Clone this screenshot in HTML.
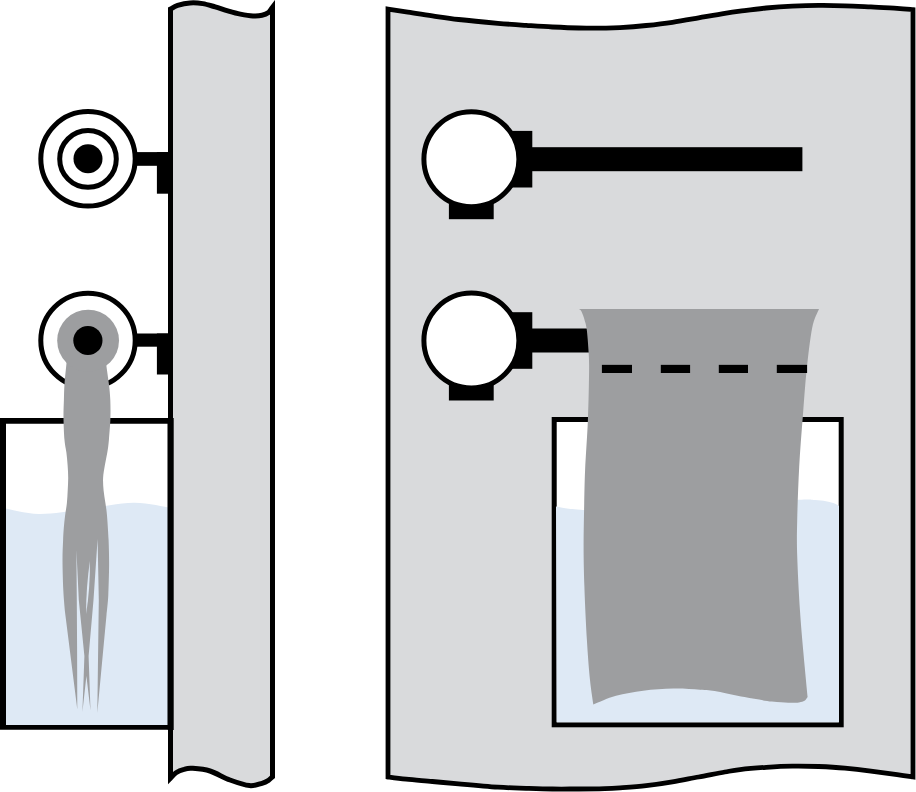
<!DOCTYPE html>
<html><head><meta charset="utf-8"><title>Diagram</title>
<style>html,body{margin:0;padding:0;background:#fff;overflow:hidden;font-family:"Liberation Sans",sans-serif}svg{display:block}</style>
</head><body>
<svg width="916" height="792" viewBox="0 0 916 792">
<path d="M3.0 508.0 C9.0 509.0 25.3 513.8 39.0 514.0 C52.7 514.2 69.2 510.9 85.0 509.0 C100.8 507.1 119.3 503.0 133.6 502.8 C147.9 502.6 164.8 507.1 171.0 508.0 L171 727 L0 727 Z" fill="#dee9f5"/>
<path d="M0 417.9 H173.7 V729.8 H0 Z M6 423.7 V724.9 H167.7 V423.7 Z" fill="#000" fill-rule="evenodd"/>
<path d="M170.5 9.0 C171.7 8.4 174.3 6.4 177.6 5.4 C180.8 4.4 185.8 3.2 190.0 2.9 C194.2 2.6 198.5 2.9 202.7 3.6 C206.9 4.3 211.0 5.7 215.2 6.9 C219.4 8.1 223.6 9.7 227.8 10.9 C232.0 12.1 236.1 13.3 240.3 14.1 C244.5 14.9 249.3 15.7 252.9 15.9 C256.5 16.1 259.4 15.9 262.0 15.3 C264.6 14.8 266.8 13.9 268.5 12.6 C270.2 11.2 271.8 8.1 272.5 7.2 L272.5 776.8 C271.8 777.4 270.2 779.2 268.5 780.3 C266.8 781.4 265.2 782.4 262.0 783.3 C258.8 784.2 254.8 786.1 249.5 785.6 C244.2 785.1 236.6 782.4 230.0 780.0 C223.4 777.6 216.3 773.0 210.0 771.0 C203.7 769.0 196.3 768.6 192.0 768.3 C187.7 768.0 186.7 768.5 184.0 769.3 C181.3 770.0 178.2 771.3 176.0 772.8 C173.8 774.3 171.4 777.4 170.5 778.3 Z" fill="#d9dadc" stroke="#000" stroke-width="5" stroke-miterlimit="10"/>
<rect x="120" y="152.1" width="48.4" height="13.7" fill="#000"/>
<rect x="156.9" y="152.1" width="11.5" height="41.6" fill="#000"/>
<rect x="120" y="333.5" width="48.4" height="13.2" fill="#000"/>
<rect x="156.9" y="333.5" width="11.5" height="41" fill="#000"/>
<rect x="167.7" y="418" width="6" height="312" fill="#000"/>
<circle cx="88" cy="158.8" r="47.2" fill="#fff" stroke="#000" stroke-width="5"/>
<circle cx="88" cy="158.9" r="28.3" fill="none" stroke="#000" stroke-width="5"/>
<circle cx="88" cy="158.8" r="14.5" fill="#000"/>
<circle cx="88" cy="340.4" r="47.2" fill="#fff" stroke="#000" stroke-width="5"/>
<path d="M67.5 346.0 C67.4 347.7 67.1 353.0 66.9 356.0 C66.7 359.0 66.8 359.3 66.4 364.0 C66.0 368.7 64.9 378.0 64.5 384.0 C64.1 390.0 64.1 394.3 63.9 400.0 C63.7 405.7 63.4 411.3 63.5 418.0 C63.6 424.7 64.0 434.2 64.5 440.0 C65.0 445.8 65.9 448.4 66.4 452.6 C66.9 456.8 67.3 460.8 67.6 465.0 C67.9 469.2 68.2 473.8 68.2 478.0 C68.2 482.2 67.9 486.3 67.7 490.5 C67.5 494.7 67.3 498.8 66.9 503.0 C66.5 507.2 65.6 511.3 65.1 515.5 C64.6 519.7 64.1 523.9 63.8 528.0 C63.5 532.1 63.3 534.7 63.1 540.0 C62.9 545.3 62.5 551.7 62.5 560.0 C62.5 568.3 62.9 581.3 63.3 590.0 C63.7 598.7 64.7 608.3 65.0 612.0 L77.3 709.5 L77.1 650 L76.8 600 L76.4 550 L78.8 600 L84.4 656 L82.4 712 L86.4 676 L90.5 710.6 L88.6 656 L93.5 600 L97.6 539 L98.8 600 L97.3 712.9 L106.5 615 C106.8 611.7 107.9 603.3 108.3 595.0 C108.7 586.7 109.0 574.2 109.1 565.0 C109.1 555.8 108.9 548.2 108.6 540.0 C108.2 531.8 107.5 521.7 107.0 515.5 C106.5 509.3 106.0 507.2 105.4 503.0 C104.8 498.8 104.0 494.7 103.6 490.5 C103.2 486.3 102.9 482.2 103.1 478.0 C103.3 473.8 104.2 469.2 104.9 465.0 C105.6 460.8 106.6 456.8 107.3 452.6 C108.0 448.4 108.4 445.8 108.9 440.0 C109.4 434.2 110.2 424.7 110.4 418.0 C110.6 411.3 110.5 405.7 110.3 400.0 C110.0 394.3 109.6 390.0 108.9 384.0 C108.2 378.0 106.7 368.7 106.2 364.0 C105.7 359.3 106.0 359.0 105.8 356.0 C105.6 353.0 105.3 347.7 105.2 346.0 Z" fill="#9d9ea0"/>
<path d="M89.9 561 Q86 588 86.1 614 Q90.2 588 89.9 561 Z" fill="#dee9f5"/>
<circle cx="88.1" cy="340.6" r="30.9" fill="#9d9ea0"/>
<circle cx="87.9" cy="340.5" r="14.6" fill="#000"/>
<path d="M388.0 9.1 C391.0 9.6 398.8 10.7 406.2 11.8 C413.6 12.9 423.7 14.6 432.4 15.8 C441.1 17.1 447.7 18.3 458.6 19.5 C469.5 20.7 486.6 22.3 497.9 23.3 C509.2 24.3 517.1 24.8 526.2 25.4 C535.3 26.0 543.7 26.6 552.4 27.0 C561.1 27.4 569.9 27.8 578.6 28.0 C587.3 28.2 597.9 28.2 604.8 28.1 C611.7 28.0 613.1 28.0 620.0 27.6 C626.9 27.2 637.5 26.4 646.2 25.5 C654.9 24.6 663.7 23.6 672.4 22.3 C681.1 21.0 689.9 19.4 698.6 17.9 C707.3 16.4 717.9 14.5 724.8 13.4 C731.7 12.3 733.1 12.1 740.0 11.2 C746.9 10.3 757.5 8.8 766.2 8.0 C774.9 7.2 783.7 6.6 792.4 6.2 C801.1 5.8 809.9 5.5 818.6 5.4 C827.3 5.3 836.1 5.5 844.8 5.8 C853.5 6.0 862.2 6.5 870.9 6.9 C879.6 7.3 890.1 8.0 897.1 8.4 C904.1 8.8 910.4 9.4 913.0 9.6 L913 777.0 C910.4 776.6 904.1 775.6 897.1 774.6 C890.1 773.6 879.6 772.2 870.9 771.1 C862.2 770.0 853.5 769.0 844.8 768.2 C836.1 767.4 827.3 766.9 818.6 766.5 C809.9 766.1 801.1 766.0 792.4 766.1 C783.7 766.2 774.9 766.7 766.2 767.3 C757.5 767.9 746.9 768.8 740.0 769.6 C733.1 770.4 731.7 770.8 724.8 772.0 C717.9 773.2 707.3 775.4 698.6 777.0 C689.9 778.6 681.1 780.4 672.4 781.9 C663.7 783.4 654.9 784.7 646.2 785.7 C637.5 786.7 626.9 787.4 620.0 787.9 C613.1 788.4 611.7 788.5 604.8 788.7 C597.9 788.9 587.3 789.0 578.6 789.0 C569.9 789.0 561.1 789.1 552.4 789.0 C543.7 788.9 535.3 788.6 526.2 788.3 C517.1 788.0 509.2 787.9 497.9 787.2 C486.6 786.5 469.5 784.9 458.6 783.9 C447.7 782.9 441.1 782.3 432.4 781.5 C423.7 780.7 413.6 780.0 406.2 779.2 C398.8 778.5 391.0 777.4 388.0 777.0 Z" fill="#d9dadc" stroke="#000" stroke-width="4.8" stroke-miterlimit="10"/>
<rect x="505" y="130.9" width="27.3" height="56.6" fill="#000"/>
<rect x="531" y="147.2" width="271.4" height="24" fill="#000"/>
<rect x="448.9" y="189.2" width="44.8" height="30" fill="#000"/>
<circle cx="471.4" cy="159.2" r="47.5" fill="#fff" stroke="#000" stroke-width="5"/>
<rect x="505" y="312.2" width="27.3" height="56.6" fill="#000"/>
<rect x="531" y="328.5" width="59.0" height="24" fill="#000"/>
<rect x="448.9" y="370.5" width="44.8" height="30" fill="#000"/>
<circle cx="471.4" cy="340.5" r="47.5" fill="#fff" stroke="#000" stroke-width="5"/>
<rect x="554.2" y="419.5" width="287" height="305.3" fill="#fff" stroke="#000" stroke-width="5"/>
<path d="M556.0 506.4 C560.5 507.0 567.3 509.3 583.0 509.9 C598.7 510.5 627.2 510.8 650.0 510.0 C672.8 509.2 695.3 506.7 720.0 505.0 C744.7 503.3 782.2 500.6 798.0 499.8 C813.8 499.0 810.3 499.8 815.0 500.0 C819.7 500.2 822.8 500.6 826.0 501.2 C829.2 501.8 831.8 502.5 834.0 503.3 C836.2 504.1 838.2 505.5 839.0 505.9 L839 722.3 L556.7 722.3 Z" fill="#dee9f5"/>
<path d="M579.2 309.1 C579.6 309.6 580.7 310.0 581.6 311.8 C582.5 313.6 583.8 317.3 584.6 320.2 C585.5 323.1 586.1 324.2 586.7 329.3 C587.4 334.4 588.1 343.7 588.5 350.5 C588.9 357.3 589.2 358.4 589.1 370.0 C589.0 381.6 588.6 403.3 587.9 420.0 C587.2 436.7 585.7 456.2 585.1 470.0 C584.5 483.8 584.5 490.5 584.2 503.0 C584.0 515.5 583.6 531.0 583.6 545.0 C583.6 559.0 583.9 570.9 584.4 586.7 C584.9 602.5 586.0 624.5 586.9 640.0 C587.8 655.5 588.9 669.2 590.0 680.0 C591.1 690.8 592.8 700.5 593.3 704.6 C597.1 703.0 607.7 698.1 616.0 695.8 C624.3 693.5 633.7 691.9 643.2 690.7 C652.8 689.5 663.8 688.8 673.3 688.6 C682.8 688.4 692.7 689.2 700.0 689.7 C707.3 690.2 709.9 690.2 717.3 691.4 C724.7 692.6 735.5 695.4 744.6 697.1 C753.7 698.8 764.6 700.7 771.9 701.6 C779.2 702.5 783.8 702.6 788.3 702.7 C792.8 702.8 796.3 702.7 799.0 702.4 C801.7 702.1 803.1 701.7 804.5 700.8 C805.9 699.9 807.1 697.6 807.6 697.0 C807.1 692.0 806.0 681.0 804.7 666.7 C803.4 652.4 801.2 629.5 800.0 611.0 C798.8 592.5 797.7 570.8 797.2 555.6 C796.7 540.4 796.9 534.8 797.2 520.0 C797.5 505.2 798.3 483.9 799.2 466.7 C800.1 449.5 801.5 432.9 802.8 416.7 C804.0 400.5 805.1 384.2 806.7 369.4 C808.3 354.6 810.2 337.9 812.2 327.8 C814.2 317.8 817.9 312.2 819.0 309.1 Z" fill="#9d9ea0"/>
<rect x="601.9" y="364.85" width="30.1" height="8.15" fill="#000"/>
<rect x="660.8" y="364.85" width="29.3" height="8.15" fill="#000"/>
<rect x="718.8" y="364.85" width="29.2" height="8.15" fill="#000"/>
<rect x="776.8" y="364.85" width="30.3" height="8.15" fill="#000"/>
</svg>
</body></html>
